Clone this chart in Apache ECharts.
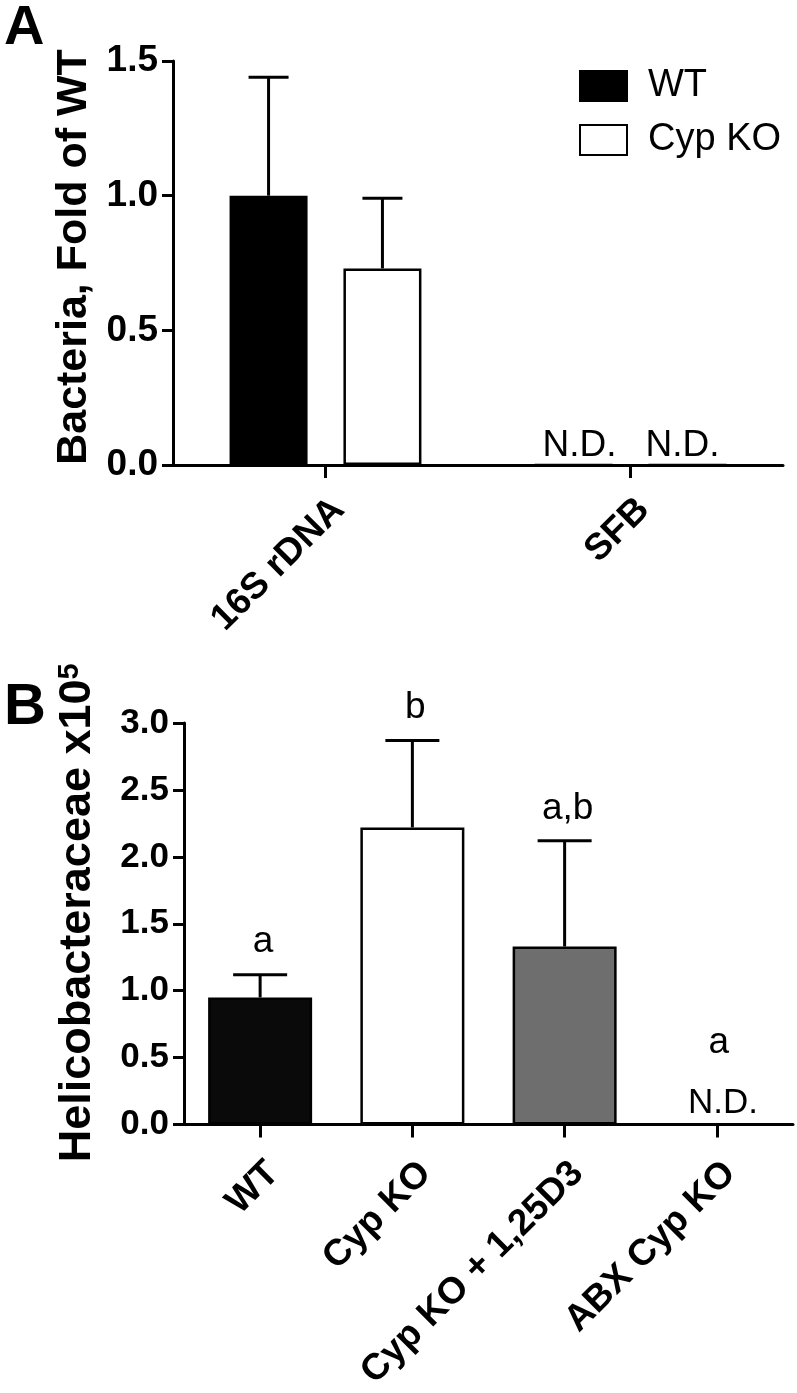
<!DOCTYPE html>
<html>
<head>
<meta charset="utf-8">
<title>Bacteria / Helicobacteraceae</title>
<script src="https://cdn.jsdelivr.net/npm/echarts@6/dist/echarts.min.js"></script>
<style>
  html, body { margin: 0; padding: 0; background: #fff; }
  #chart { width: 797px; height: 1393px; }
</style>
</head>
<body>
<div id="chart"></div>
<script>
// ---- panel A: bacteria, fold of WT ----
var targetsA = ['16S rDNA', 'SFB'];
var wtA = [1.0, 0];
var wtErrA = [0.44, 0];
var koA = [0.73, 0];
var koErrA = [0.26, 0];

// ---- panel B: Helicobacteraceae x10^5 ----
var groupsB = ['WT', 'Cyp KO', 'Cyp KO + 1,25D3', 'ABX Cyp KO'];
var meanB = [0.95, 2.22, 1.33, 0];
var errB = [0.17, 0.65, 0.79, 0];
var lettersB = ['a', 'b', 'a,b', 'a'];
var colorsB = ['#0a0a0a', '#ffffff', '#6e6e6e', '#ffffff'];

var FONT = 'Liberation Sans, Arial, Helvetica, sans-serif';
var BAR_A = 78, GAP_A = 0.46;   // bar width and gap ratio in A
var BAR_B = 104;

var myChart = echarts.init(document.getElementById('chart'), null, { renderer: 'canvas' });

function errData(means, errs) {
  var res = [];
  for (var i = 0; i < means.length; i++) res.push([i, means[i], errs[i]]);
  return res;
}

// error bar (+ N.D. when nothing detected) for a grouped bar in A
function makeRenderA(offset) {
  return function (params, api) {
    var i = api.value(0), m = api.value(1), e = api.value(2);
    var base = api.coord([i, m]);
    var top = api.coord([i, m + e]);
    var x = base[0] + offset;
    if (m === 0) {
      return {
        type: 'text',
        style: { text: 'N.D.', x: x + (offset < 0 ? 6 : -5), y: base[1] - 1, align: 'center', verticalAlign: 'bottom',
                 fontSize: 37, fontFamily: FONT, fill: '#000' }
      };
    }
    var ls = { stroke: '#000', lineWidth: 3 };
    return {
      type: 'group',
      children: [
        { type: 'line', shape: { x1: x, y1: base[1], x2: x, y2: top[1] }, style: ls },
        { type: 'line', shape: { x1: x - 20, y1: top[1], x2: x + 20, y2: top[1] }, style: ls }
      ]
    };
  };
}

function renderB(params, api) {
  var i = api.value(0), m = api.value(1), e = api.value(2);
  var base = api.coord([i, m]);
  var top = api.coord([i, m + e]);
  var x = base[0];
  var ls = { stroke: '#000', lineWidth: 3 };
  var children = [];
  var letterY;
  if (m === 0) {
    children.push({
      type: 'text',
      style: { text: 'N.D.', x: x + 6, y: base[1] - 4, align: 'center', verticalAlign: 'bottom',
               fontSize: 35, fontFamily: FONT, fill: '#000' }
    });
    letterY = base[1] - 63;
  } else {
    children.push({ type: 'line', shape: { x1: x, y1: base[1], x2: x, y2: top[1] }, style: ls });
    children.push({ type: 'line', shape: { x1: x - 27, y1: top[1], x2: x + 27, y2: top[1] }, style: ls });
    letterY = top[1] - 14;
  }
  children.push({
    type: 'text',
    style: { text: lettersB[i], x: x + (m === 0 ? 2 : 3), y: letterY, align: 'center', verticalAlign: 'bottom',
             fontSize: 37, fontFamily: FONT, fill: '#000' }
  });
  return { type: 'group', children: children };
}

var axisLine = { show: true, lineStyle: { color: '#000', width: 3 } };
var axisTick = { show: true, length: 11, lineStyle: { color: '#000', width: 3 } };

var option = {
  backgroundColor: '#fff',
  animation: false,
  title: [
    { text: 'A', left: -1, top: -4, textStyle: { fontSize: 56, fontWeight: 'bold', color: '#000', fontFamily: FONT } },
    { text: 'B', left: -1, top: 674, textStyle: { fontSize: 58, fontWeight: 'bold', color: '#000', fontFamily: FONT } }
  ],
  legend: {
    orient: 'vertical',
    left: 579,
    top: 67,
    itemWidth: 47,
    itemHeight: 30,
    itemGap: 16,
    padding: 0,
    icon: 'rect',
    data: ['WT', 'Cyp KO'],
    textStyle: { fontSize: 38, color: '#000', fontFamily: FONT, padding: [0, 0, 0, 16] }
  },
  grid: [
    { left: 173, top: 61, right: 14, bottom: 928 },
    { left: 184, top: 723, right: 4, bottom: 265 }
  ],
  xAxis: [
    {
      gridIndex: 0, type: 'category', data: targetsA,
      axisLine: axisLine,
      axisTick: { show: true, alignWithLabel: true, length: 13, lineStyle: { color: '#000', width: 3 } },
      axisLabel: { rotate: 45, margin: 26, verticalAlign: 'top', fontSize: 37, fontWeight: 'bold',
                   color: '#000', fontFamily: FONT }
    },
    {
      gridIndex: 1, type: 'category', data: groupsB,
      axisLine: axisLine,
      axisTick: { show: true, alignWithLabel: true, length: 13, lineStyle: { color: '#000', width: 3 } },
      axisLabel: { rotate: 45, margin: 30, verticalAlign: 'top', fontSize: 37, fontWeight: 'bold',
                   color: '#000', fontFamily: FONT }
    }
  ],
  yAxis: [
    {
      gridIndex: 0, type: 'value', min: 0, max: 1.5, interval: 0.5,
      splitLine: { show: false },
      axisLine: axisLine, axisTick: axisTick,
      axisLabel: { margin: 15, fontSize: 37, fontWeight: 'bold', color: '#000', fontFamily: FONT,
                   formatter: function (v) { return v.toFixed(1); } },
      name: 'Bacteria, Fold of WT', nameLocation: 'middle', nameGap: 72,
      nameTextStyle: { fontSize: 43, fontWeight: 'bold', color: '#000', fontFamily: FONT, padding: [0, 0, 0, 12] }
    },
    {
      gridIndex: 1, type: 'value', min: 0, max: 3, interval: 0.5,
      splitLine: { show: false },
      axisLine: axisLine, axisTick: axisTick,
      axisLabel: { margin: 15, fontSize: 35, fontWeight: 'bold', color: '#000', fontFamily: FONT,
                   formatter: function (v) { return v.toFixed(1); } },
      name: 'Helicobacteraceae x10{sup|5}', nameLocation: 'middle', nameGap: 84,
      nameTextStyle: {
        fontSize: 45, fontWeight: 'bold', color: '#000', fontFamily: FONT, padding: [0, 0, 0, 22],
        rich: { sup: { fontSize: 29, fontWeight: 'bold', color: '#000', fontFamily: FONT, verticalAlign: 'top' } }
      }
    }
  ],
  series: [
    {
      name: 'WT', type: 'bar', xAxisIndex: 0, yAxisIndex: 0,
      data: wtA, barWidth: BAR_A, barGap: (GAP_A * 100) + '%',
      itemStyle: { color: '#000', borderColor: '#000', borderWidth: 2.5 }
    },
    {
      name: 'Cyp KO', type: 'bar', xAxisIndex: 0, yAxisIndex: 0,
      data: koA, barWidth: BAR_A, barGap: (GAP_A * 100) + '%',
      itemStyle: { color: '#fff', borderColor: '#000', borderWidth: 2.5 }
    },
    {
      type: 'custom', xAxisIndex: 0, yAxisIndex: 0, z: 5,
      renderItem: makeRenderA(-BAR_A * (1 + GAP_A) / 2),
      data: errData(wtA, wtErrA)
    },
    {
      type: 'custom', xAxisIndex: 0, yAxisIndex: 0, z: 5,
      renderItem: makeRenderA(BAR_A * (1 + GAP_A) / 2),
      data: errData(koA, koErrA)
    },
    {
      name: 'Helicobacteraceae', type: 'bar', xAxisIndex: 1, yAxisIndex: 1,
      barWidth: BAR_B,
      data: meanB.map(function (v, i) {
        return { value: v, itemStyle: { color: colorsB[i], borderColor: '#000', borderWidth: v === 0 ? 0 : 2.5 } };
      })
    },
    {
      type: 'custom', xAxisIndex: 1, yAxisIndex: 1, z: 5,
      renderItem: renderB,
      data: errData(meanB, errB)
    }
  ]
};

myChart.setOption(option);
window.addEventListener('resize', function () {
  myChart.resize();
});
</script>
</body>
</html>
